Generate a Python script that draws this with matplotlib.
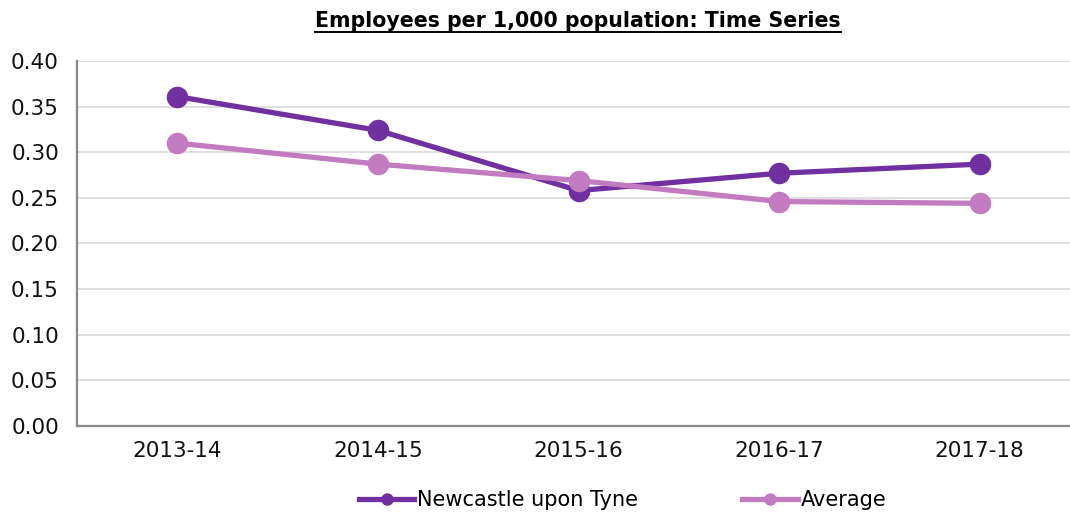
import matplotlib.pyplot as plt
from matplotlib.lines import Line2D

years = ['2013-14', '2014-15', '2015-16', '2016-17', '2017-18']
newcastle = [0.361, 0.324, 0.258, 0.277, 0.287]
average = [0.310, 0.287, 0.269, 0.246, 0.244]

dark = '#7030A0'
light = '#C27BBF'

plt.rcParams['font.family'] = ['Verdana', 'DejaVu Sans']

fig = plt.figure(figsize=(10.7, 5.13), dpi=100)
ax = fig.add_axes([0.072, 0.1696, 0.928, 0.7115])

x = list(range(len(years)))
ax.plot(x, newcastle, color=dark, lw=3.8, marker='o', ms=14.5, label='Newcastle upon Tyne', zorder=3)
ax.plot(x, average, color=light, lw=3.8, marker='o', ms=14.5, label='Average', zorder=3)

ax.set_xlim(-0.5, 4.45)
ax.set_ylim(0, 0.40)
ax.set_yticks([i * 0.05 for i in range(9)])
ax.set_yticklabels([f'{i * 0.05:.2f}' for i in range(9)])
ax.set_xticks(x)
ax.set_xticklabels(years)
ax.tick_params(length=0, labelsize=15.5, colors='#111111')
ax.tick_params(axis='y', pad=13)
ax.tick_params(axis='x', pad=11)
ax.grid(axis='y', color='#D9D9D9', lw=1.2)
ax.set_axisbelow(True)
for s in ['top', 'right']:
    ax.spines[s].set_visible(False)
for s in ['left', 'bottom']:
    ax.spines[s].set_color('#888888')
    ax.spines[s].set_linewidth(1.6)

leg = fig.legend(loc='center', bbox_to_anchor=(0.582, 0.025), ncol=2, frameon=False,
                 fontsize=15, handlelength=2.65, handletextpad=0.15, columnspacing=5.0,
                 markerscale=0.55)

# title with underline
t = fig.text(0.54, 0.96, 'Employees per 1,000 population: Time Series', ha='center', va='center',
             fontsize=14.8, fontweight='bold')
fig.canvas.draw()
bb = t.get_window_extent().transformed(fig.transFigure.inverted())
fig.add_artist(Line2D([bb.x0, bb.x1], [bb.y0 - 0.003, bb.y0 - 0.003], color='black', lw=1.4,
                      transform=fig.transFigure))

fig.savefig('out.png', dpi=100, facecolor='white')
